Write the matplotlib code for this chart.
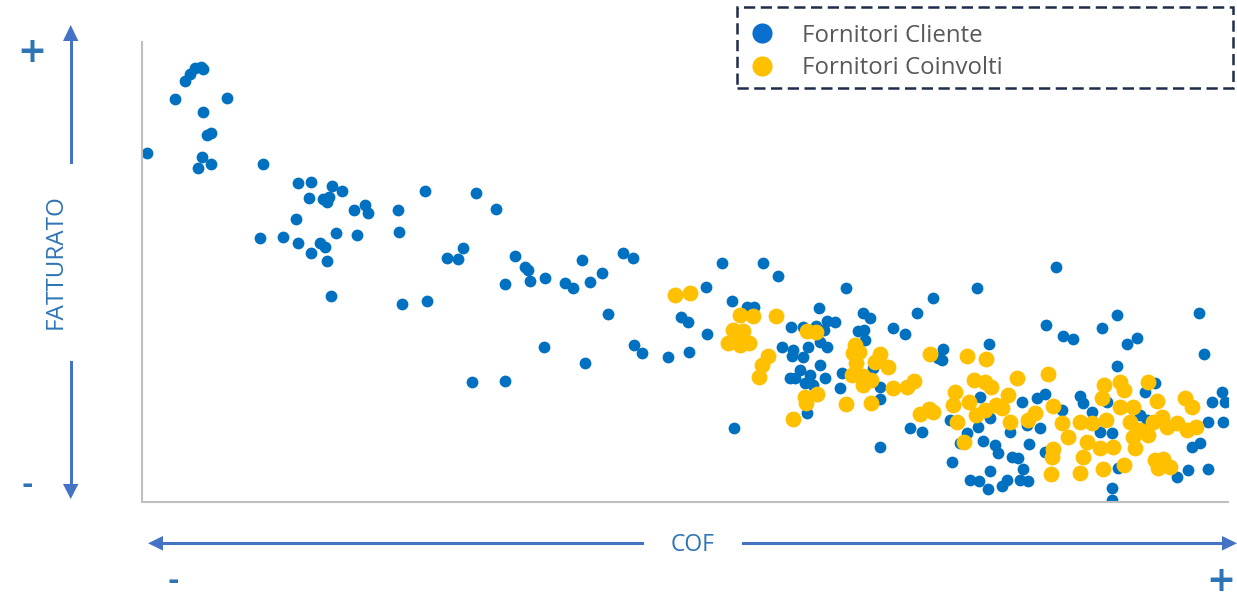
"""
Scatter COF vs Fatturato: fornitori cliente / fornitori coinvolti
"""
import numpy as np
import matplotlib
matplotlib.use('Agg')
import matplotlib.pyplot as plt
from matplotlib.lines import Line2D
from matplotlib.patches import Polygon, Rectangle

# (COF, fatturato); fatturato grows upwards (axis inverted below)
clienti = [
    (147, 153), (175, 99), (185, 81), (190, 74), (195, 68), (201, 67), (203, 69), (227, 98),
    (203, 112), (207, 135), (211, 133), (202, 157), (198, 168), (211, 164), (263, 164),
    (298, 183), (311, 182), (332, 186), (342, 191), (309, 198), (323, 199), (329, 197),
    (327, 202), (354, 210), (365, 205), (368, 213), (398, 210), (425, 191), (476, 193),
    (496, 209), (296, 219), (260, 238), (283, 237), (298, 243), (320, 243), (325, 247),
    (336, 233), (311, 253), (327, 261), (357, 235), (399, 232), (447, 258), (458, 259),
    (463, 248), (515, 256), (525, 267), (528, 270), (530, 281), (505, 284), (331, 296),
    (402, 304), (427, 301),
    (545, 278), (565, 283), (573, 288), (582, 260), (590, 282), (602, 273), (623, 253),
    (633, 258), (608, 314), (544, 347), (472, 382), (505, 381), (585, 363), (634, 345),
    (642, 353), (668, 357), (689, 352), (707, 334), (681, 317), (688, 322), (706, 287),
    (722, 263), (763, 263), (778, 276), (732, 301), (734, 428),
    (747, 307), (754, 307), (846, 288), (819, 308), (791, 327), (803, 327), (816, 326),
    (827, 321), (835, 322), (824, 330), (782, 347), (793, 350), (808, 347), (820, 342),
    (827, 347), (792, 356), (803, 357), (820, 365), (790, 378), (800, 370), (810, 375),
    (825, 378), (795, 378), (805, 383), (813, 385), (842, 373), (840, 388), (807, 413),
    (863, 313), (870, 318), (858, 331), (864, 330), (865, 340), (873, 368), (880, 387),
    (880, 399), (893, 328), (905, 334), (917, 313), (933, 298), (938, 358), (910, 428),
    (922, 432), (880, 447),
    (977, 288), (1056, 267), (1046, 325), (1063, 336), (1073, 339), (1102, 328), (1117, 315),
    (1127, 344), (1137, 338), (1199, 313), (1204, 354), (1117, 366), (943, 349), (942, 360),
    (989, 344), (952, 462), (950, 420), (960, 443), (967, 433), (980, 397), (978, 427),
    (983, 441), (990, 418), (995, 445), (998, 453), (1012, 457), (1018, 458), (1010, 432),
    (1022, 402), (1027, 425), (1029, 444), (1037, 398), (1045, 394), (1040, 428), (1023, 469),
    (1020, 480), (1028, 481), (1007, 480), (1002, 486), (990, 471), (970, 480), (979, 481),
    (988, 489), (1062, 410), (1045, 452), (1080, 396), (1083, 403), (1092, 412), (1100, 432),
    (1112, 433), (1107, 402), (1118, 468), (1112, 488), (1112, 500), (1145, 392), (1155, 383),
    (1140, 415), (1147, 420), (1212, 402), (1222, 392), (1225, 402), (1208, 422), (1223, 422),
    (1192, 447), (1200, 443), (1188, 470), (1177, 477), (1208, 469), (1167, 466),
]

coinvolti = [
    (675, 295), (690, 293), (740, 315), (753, 316), (776, 316), (733, 330), (743, 331),
    (728, 343), (740, 345), (749, 343), (738, 338), (768, 356), (762, 365), (759, 377),
    (807, 331), (816, 332), (805, 397), (817, 394), (806, 403), (793, 419), (855, 345),
    (859, 352), (853, 353), (856, 363), (852, 375), (863, 376), (871, 380), (863, 385),
    (846, 404), (871, 403), (880, 354), (875, 362), (888, 367), (893, 388), (907, 387),
    (914, 381), (930, 354), (920, 414), (929, 409), (933, 412),
    (967, 356), (986, 359), (955, 392), (953, 405), (957, 422), (964, 442), (974, 380),
    (985, 382), (991, 387), (969, 402), (976, 415), (985, 410), (996, 405), (1002, 408),
    (1008, 395), (1010, 422), (1017, 378), (1035, 413), (1028, 420), (1048, 374), (1053, 406),
    (1062, 423), (1068, 437), (1080, 422), (1092, 423), (1106, 420), (1087, 442), (1100, 448),
    (1113, 447), (1053, 449), (1052, 457), (1083, 457), (1051, 474), (1080, 473), (1103, 469),
    (1124, 465), (1104, 385), (1120, 382), (1124, 390), (1102, 398), (1120, 407), (1133, 407),
    (1148, 382), (1157, 401), (1130, 422), (1140, 430), (1153, 422), (1133, 437), (1148, 435),
    (1135, 448), (1162, 417), (1167, 427), (1177, 423), (1185, 398), (1192, 407), (1187, 430),
    (1196, 427), (1155, 460), (1163, 459), (1170, 467), (1158, 468),
]

series_labels = ['Fornitori Cliente', 'Fornitori Coinvolti']
x_label = 'COF'
y_label = 'FATTURATO'

BLUE = '#0070C0'
YELLOW = '#FFC000'
ARROW = '#4472C4'
TEXT_BLUE = '#2E75B6'

W, H = 1237, 596


def fx(px):
    return px / W


def fy(py):
    return 1 - py / H


fig = plt.figure(figsize=(W / 100, H / 100), dpi=100)
ax = fig.add_axes([fx(142), fy(502), (1228 - 142) / W, (502 - 42) / H])

cx, cy = np.array(clienti).T
gx, gy = np.array(coinvolti).T
ax.scatter(cx, cy, s=72, color=BLUE, linewidths=0, zorder=2)
ax.scatter(gx, gy, s=130, color=YELLOW, linewidths=0, zorder=3)

ax.set_xlim(142, 1228)
ax.set_ylim(502, 42)
ax.set_xticks([])
ax.set_yticks([])
for side in ['top', 'right']:
    ax.spines[side].set_visible(False)
for side in ['left', 'bottom']:
    ax.spines[side].set_color('#BFBFBF')
    ax.spines[side].set_linewidth(1.5)


def seg(x0, y0, x1, y1):
    fig.add_artist(Line2D([fx(x0), fx(x1)], [fy(y0), fy(y1)], color=ARROW,
                          linewidth=2.2, transform=fig.transFigure))


def head(pts):
    fig.add_artist(Polygon([(fx(a), fy(b)) for a, b in pts], closed=True,
                           color=ARROW, transform=fig.transFigure, linewidth=0))


# vertical arrow (fatturato)
seg(70.7, 40, 70.7, 162)
head([(70.7, 25), (63, 41), (78.4, 41)])
seg(70.7, 362, 70.7, 485)
head([(70.7, 499), (63, 484), (78.4, 484)])

# horizontal arrow (COF)
seg(162, 543.3, 642, 543.3)
head([(148, 543.3), (163, 536), (163, 550.6)])
seg(743, 543.3, 1224, 543.3)
head([(1237, 543.3), (1222, 536), (1222, 550.6)])

fig.text(fx(56), fy(262), y_label, rotation=90, ha='center', va='center',
         fontsize=17.5, color=TEXT_BLUE, family='Open Sans')
fig.text(fx(693), fy(545), x_label, ha='center', va='center',
         fontsize=16.5, color=TEXT_BLUE, family='Open Sans')

# + / - marks at the arrow ends
fig.text(fx(32), fy(52), '+', ha='center', va='center', fontsize=25,
         fontweight='bold', color=TEXT_BLUE, family='DejaVu Sans')
fig.text(fx(27), fy(485), '-', ha='center', va='center', fontsize=20,
         fontweight='bold', color=TEXT_BLUE, family='DejaVu Sans')
fig.text(fx(173), fy(595), '-', ha='center', va='bottom', fontsize=20,
         fontweight='bold', color=TEXT_BLUE, family='DejaVu Sans')
fig.text(fx(1221), fy(581), '+', ha='center', va='center', fontsize=25,
         fontweight='bold', color=TEXT_BLUE, family='DejaVu Sans')

# legend box
fig.add_artist(Rectangle((fx(737), fy(88)), (1233 - 737) / W, (88 - 7.5) / H,
                         transform=fig.transFigure, fill=False, edgecolor='#1F2D4D',
                         linewidth=1.8, linestyle=(0, (4.5, 2.2))))
for label, color, py in [(series_labels[0], '#0B6FD0', 33), (series_labels[1], YELLOW, 66)]:
    fig.add_artist(Line2D([fx(762)], [fy(py)], marker='o', markersize=14.5,
                          color=color, markeredgewidth=0, transform=fig.transFigure))
    fig.text(fx(802), fy(py + 2.5), label, ha='left', va='center', fontsize=17.3,
             color='#595959', family='Open Sans')

plt.savefig('out.png', dpi=100)
plt.close()
